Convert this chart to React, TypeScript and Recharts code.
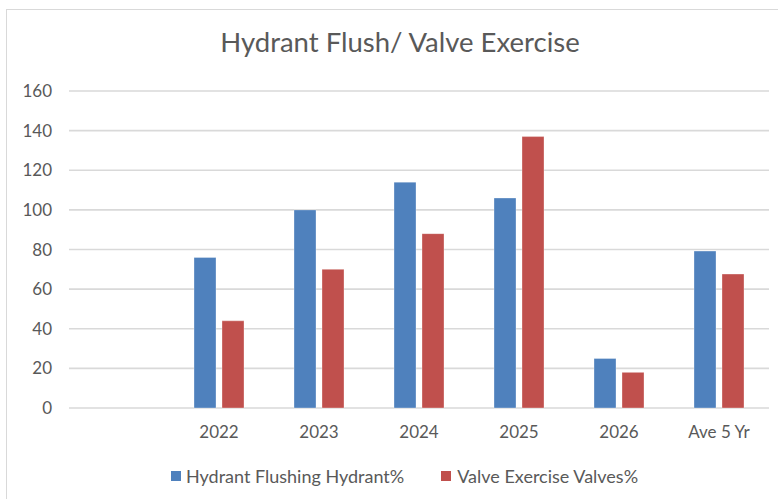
import React from 'react';
import { BarChart, Bar, XAxis, YAxis, CartesianGrid } from 'recharts';

const categories = ['', '2022', '2023', '2024', '2025', '2026', 'Ave 5 Yr'];
const hydrantPct = [null, 76, 100, 114, 106, 25, 79.2];
const valvesPct = [null, 44, 70, 88, 137, 18, 67.6];
const yTicks = [0, 20, 40, 60, 80, 100, 120, 140, 160];

const seriesNames = ['Hydrant Flushing Hydrant%', 'Valve Exercise Valves%'];
const BLUE = '#4f81bd';
const RED = '#c0504d';
const TEXT = '#595959';
const FONT = 'Lato, "Open Sans", sans-serif';

const data = categories.map((c, i) => ({
  name: c,
  hydrant: hydrantPct[i],
  valves: valvesPct[i],
}));

const App: React.FC = () => {
  return (
    <div style={{ position: 'absolute', left: 0, top: 0, width: 778, height: 499, background: '#fff', fontFamily: FONT }}>
      {/* chart frame */}
      <div style={{ position: 'absolute', left: 6, top: 9, width: 800, height: 520, borderLeft: '1.5px solid #d9d9d9', borderTop: '1.5px solid #d9d9d9' }} />

      <div style={{ position: 'absolute', left: 0, top: 25, width: 800, textAlign: 'center', fontSize: 27.5, color: TEXT }}>
        Hydrant Flush/ Valve Exercise
      </div>

      <div style={{ position: 'absolute', left: 0, top: 0 }}>
        <BarChart
          width={778}
          height={499}
          data={data}
          margin={{ top: 91, right: 9, left: 0, bottom: 51 }}
          barSize={22}
          barGap={6}
        >
          <CartesianGrid vertical={false} stroke="#d9d9d9" strokeWidth={1.6} />
          <XAxis
            dataKey="name"
            axisLine={false}
            tickLine={false}
            tickSize={0}
            tickMargin={18}
            height={40}
            interval={0}
            tick={{ fontSize: 17, fill: TEXT, fontFamily: FONT }}
          />
          <YAxis
            domain={[0, 160]}
            ticks={yTicks}
            axisLine={false}
            tickLine={false}
            tickSize={0}
            tickMargin={17}
            width={69}
            tick={{ fontSize: 17, fill: TEXT, fontFamily: FONT }}
          />
          <Bar dataKey="hydrant" fill={BLUE} stroke="#ffffff" strokeOpacity={0.4} strokeWidth={0.8} isAnimationActive={false} />
          <Bar dataKey="valves" fill={RED} stroke="#ffffff" strokeOpacity={0.4} strokeWidth={0.8} isAnimationActive={false} />
        </BarChart>
      </div>

      {/* legend */}
      <div style={{ position: 'absolute', left: 171, top: 465, display: 'flex', alignItems: 'center', fontSize: 18, color: TEXT, whiteSpace: 'nowrap' }}>
        <span style={{ display: 'inline-block', width: 10, height: 10, background: BLUE, marginRight: 5 }} />
        <span>{seriesNames[0]}</span>
        <span style={{ display: 'inline-block', width: 10, height: 10, background: RED, marginLeft: 37, marginRight: 6 }} />
        <span>{seriesNames[1]}</span>
      </div>
    </div>
  );
};

export default App;
